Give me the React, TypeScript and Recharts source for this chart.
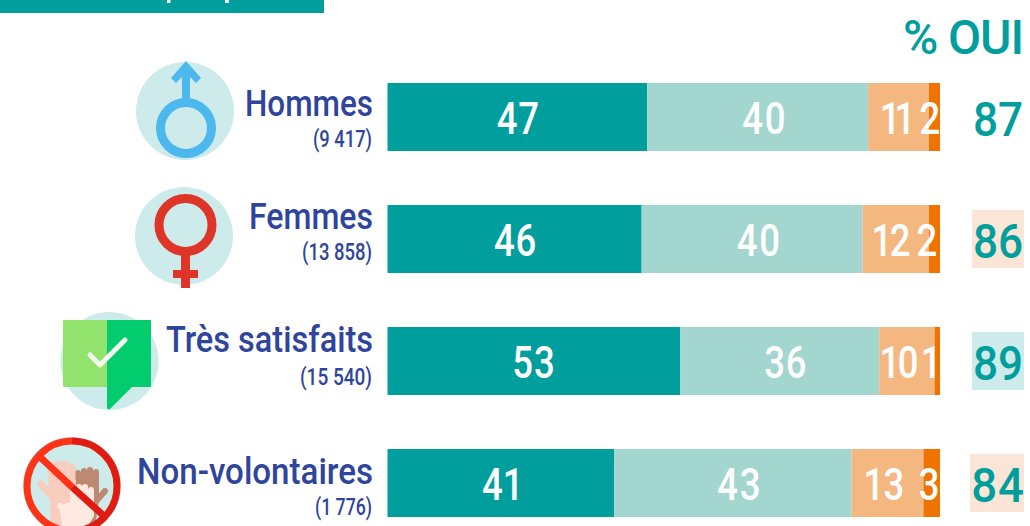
import React from "react";
import { BarChart, Bar, XAxis, YAxis, LabelList } from "recharts";

const groups = ["Hommes", "Femmes", "Très satisfaits", "Non-volontaires"];
const counts = ["(9 417)", "(13 858)", "(15 540)", "(1 776)"];
const tout = [47, 46, 53, 41];
const plutot = [40, 40, 36, 43];
const plutotNon = [11, 12, 10, 13];
const nonTout = [2, 2, 1, 3];
const oui = [87, 86, 89, 84];

const rows = groups.map((g, i) => ({
  group: g,
  oui: oui[i],
  tout: tout[i],
  plutot: plutot[i],
  plutotNon: plutotNon[i],
  nonTout: nonTout[i],
}));

const FONT = "Roboto, sans-serif";
const TEAL = "#009E9C";
const TEAL_LIGHT = "#A3D6CF";
const ORANGE_LIGHT = "#F5B780";
const ORANGE = "#EF7300";
const BLUE = "#2F459C";
const TINT = "#CCEBEA";
const PEACH = "#FAE5D7";

// layout tweaks, per row
const nameWidth = [128, 124, 207, 236];
const nameDy = [-1, -10, -9, 1];
const countWidth = [59, 70, 72, 57];
const countDy = [30, 21, 24, 32];
const nudgeTout = [1, 1, 0, 2];
const nudgePlutot = [7, 7, 6, 7];
const nudgePlutotNon = [-4, -6, -9, -4];
const nudgeNonTout = [-4.5, -7.5, -6, -2.5];
const spacingTout = [1, 1, 1, 0];
const spacingPlutot = [2, 2, 1, 2];
const spacingPlutotNon = [-7, -3, -3, -1];
const spacingNonTout = [0, 0, 0, 0];
const totalBg = ["none", PEACH, TINT, PEACH];
const totalBgX = [972, 972, 972, 970];
const totalBgW = [52, 52, 52, 54];
const totalCx = [998, 998, 998, 998];
const totalScale = [0.92, 0.92, 0.92, 0.95];
const totalSpacing = [0, 0, 0, 1];

const ValueLabel = (nudge: number[], spacing: number[]) => (p: any) => {
  const cx = p.x + p.width / 2 + nudge[p.index];
  const cy = p.y + p.height / 2;
  return (
    <text
      transform={`translate(${cx} ${cy + 17}) scale(0.84 1)`}
      textAnchor="middle"
      fill="#fff"
      fontFamily={FONT}
      fontWeight={500}
      fontSize={43.5}
      letterSpacing={spacing[p.index]}
    >
      {p.value}
    </text>
  );
};

const NameTick = (p: any) => {
  const i = p.index;
  const y = p.payload.coordinate;
  return (
    <g>
      <text
        x={373}
        y={y + nameDy[i]}
        textAnchor="end"
        fill={BLUE}
        fontFamily={FONT}
        fontWeight={500}
        fontSize={37}
        textLength={nameWidth[i]}
        lengthAdjust="spacingAndGlyphs"
      >
        {groups[i]}
      </text>
      <text
        x={372}
        y={y + countDy[i]}
        textAnchor="end"
        fill={BLUE}
        fontFamily={FONT}
        fontWeight={500}
        fontSize={24}
        textLength={countWidth[i]}
        lengthAdjust="spacingAndGlyphs"
      >
        {counts[i]}
      </text>
    </g>
  );
};

const TotalTick = (p: any) => {
  const i = p.index;
  const y = p.payload.coordinate;
  return (
    <g>
      <rect x={totalBgX[i]} y={y - 29} width={totalBgW[i]} height={58} fill={totalBg[i]} />
      <text
        transform={`translate(${totalCx[i]} ${y + 19}) scale(${totalScale[i]} 1)`}
        textAnchor="middle"
        fill={TEAL}
        fontFamily={FONT}
        fontWeight={500}
        fontSize={48}
        letterSpacing={totalSpacing[i]}
      >
        {p.payload.value}
      </text>
    </g>
  );
};

const Icons = () => (
  <g>
    {/* male */}
    <circle cx={185} cy={111} r={49} fill={TINT} />
    <circle cx={186} cy={128} r={25.5} fill="none" stroke="#4DB8EE" strokeWidth={9} />
    <path d="M186 61 L201 78 L196 83 L190 77 L190 100 L182 100 L182 77 L176 83 L171 78 Z" fill="#4DB8EE" />
    {/* female */}
    <circle cx={184} cy={236} r={49} fill={TINT} />
    <circle cx={185.5} cy={225} r={26.5} fill="none" stroke="#DE3528" strokeWidth={9} />
    <path d="M181 254 H190 V270 H198 V278 H190 V288 H181 V278 H173 V270 H181 Z" fill="#DE3528" />
    {/* satisfied */}
    <circle cx={109.5} cy={361} r={49} fill={TINT} />
    <path d="M64 320 H107 V387 H64 Q63 387 63 386 V321 Q63 320 64 320 Z" fill="#92E26E" />
    <path d="M107 320 H150 Q151 320 151 321 V386 Q151 387 150 387 H132 L110 409 Q107 410 107 407 Z" fill="#03CC6E" />
    <path d="M90 355 L100 365 L125 340" fill="none" stroke="#F2F8EC" strokeWidth={5} strokeLinecap="round" strokeLinejoin="round" />
    {/* non-volunteers */}
    <circle cx={72} cy={486} r={49} fill={TINT} />
    <g stroke="#BE8973" strokeWidth={6} strokeLinecap="round">
      <line x1={78} y1={473} x2={78} y2={495} />
      <line x1={84} y1={471} x2={84} y2={495} />
      <line x1={90} y1={470} x2={90} y2={495} />
      <line x1={96} y1={472} x2={96} y2={495} />
      <line x1={92} y1={506} x2={105} y2={491} />
    </g>
    <path d="M76 488 H99 V500 L95 526 H76 Z" fill="#BE8973" />
    <g stroke="#F9CDBE" strokeWidth={7} strokeLinecap="round">
      <line x1={52} y1={466} x2={52} y2={490} />
      <line x1={58} y1={464} x2={58} y2={490} />
      <line x1={65} y1={464} x2={65} y2={490} />
      <line x1={72} y1={467} x2={72} y2={490} />
      <line x1={41} y1={484} x2={52} y2={497} />
    </g>
    <path d="M49 480 H76 V503 L72 526 H51 L50 505 Z" fill="#F9CDBE" />
    <g stroke="#FFE9E0" strokeWidth={6} strokeLinecap="round">
      <line x1={73} y1={490} x2={73} y2={505} />
      <line x1={79} y1={487} x2={79} y2={505} />
      <line x1={85} y1={487} x2={85} y2={505} />
      <line x1={91} y1={490} x2={91} y2={505} />
      <line x1={60} y1={506} x2={68} y2={512} />
    </g>
    <path d="M66 503 H94 V516 L88 526 H62 L60 510 Z" fill="#FFE9E0" />
    <line x1={40} y1={457} x2={72} y2={487} stroke="#FF3318" strokeWidth={7} />
    <line x1={72} y1={487} x2={104} y2={516} stroke="#E01C12" strokeWidth={7} />
    <path d="M72 441 A45 45 0 0 0 72 531" fill="none" stroke="#FF3318" strokeWidth={7} />
    <path d="M72 441 A45 45 0 0 1 72 531" fill="none" stroke="#E01C12" strokeWidth={7} />
    {/* banner; only two descender stubs of its cropped title remain visible */}
    <rect x={0} y={0} width={324} height={13} fill={TEAL} />
    <rect x={167} y={0} width={3.5} height={3} fill="#fff" />
    <rect x={225} y={0} width={4} height={3} fill="#fff" />
    {/* column head */}
    <text
      x={1024}
      y={54}
      textAnchor="end"
      fill={TEAL}
      fontFamily={FONT}
      fontWeight={500}
      fontSize={48}
      textLength={121}
      lengthAdjust="spacing"
    >
      % OUI
    </text>
  </g>
);

export default function App() {
  return (
    <div style={{ position: "absolute", left: 0, top: 0, width: 1030, height: 526, overflow: "hidden", background: "#fff" }}>
      <BarChart
        width={1030}
        height={544}
        data={rows}
        layout="vertical"
        margin={{ top: 56, right: 0, bottom: 0, left: 0 }}
        barSize={68}
      >
        <XAxis type="number" domain={[0, 100]} hide />
        <YAxis
          yAxisId="name"
          type="category"
          dataKey="group"
          orientation="left"
          width={387.5}
          axisLine={false}
          tickLine={false}
          interval={0}
          tick={NameTick}
        />
        <YAxis
          yAxisId="total"
          type="category"
          dataKey="oui"
          orientation="right"
          width={90}
          axisLine={false}
          tickLine={false}
          interval={0}
          tick={TotalTick}
        />
        <Bar yAxisId="name" dataKey="tout" stackId="a" fill={TEAL} isAnimationActive={false}>
          <LabelList dataKey="tout" content={ValueLabel(nudgeTout, spacingTout)} />
        </Bar>
        <Bar yAxisId="name" dataKey="plutot" stackId="a" fill={TEAL_LIGHT} isAnimationActive={false}>
          <LabelList dataKey="plutot" content={ValueLabel(nudgePlutot, spacingPlutot)} />
        </Bar>
        <Bar yAxisId="name" dataKey="plutotNon" stackId="a" fill={ORANGE_LIGHT} isAnimationActive={false}>
          <LabelList dataKey="plutotNon" content={ValueLabel(nudgePlutotNon, spacingPlutotNon)} />
        </Bar>
        <Bar yAxisId="name" dataKey="nonTout" stackId="a" fill={ORANGE} isAnimationActive={false}>
          <LabelList dataKey="nonTout" content={ValueLabel(nudgeNonTout, spacingNonTout)} />
        </Bar>
        <Icons />
      </BarChart>
    </div>
  );
}
